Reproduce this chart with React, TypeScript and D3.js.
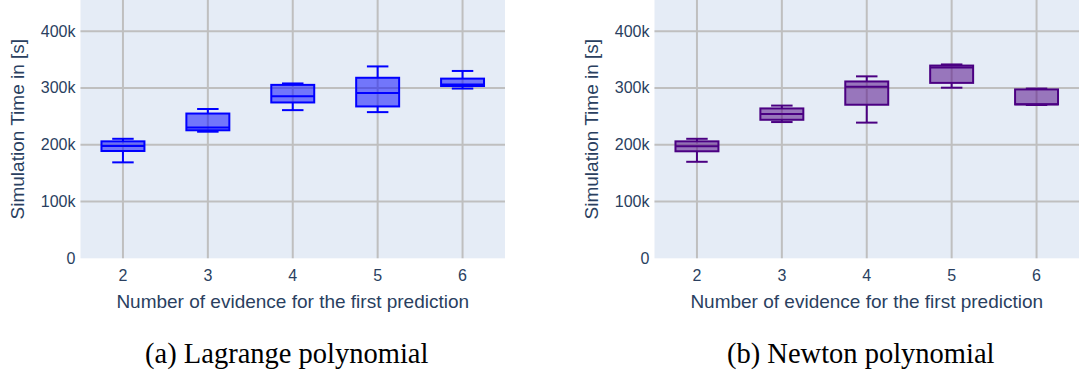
import React from 'react'
import * as d3 from 'd3'

// categories on the x axis (number of evidence)
const categories = ['2', '3', '4', '5', '6']
const yTicks = [0, 100000, 200000, 300000, 400000]

// Lagrange polynomial, simulation time in seconds
const lagrangeMin = [169000, 223000, 261000, 257500, 299000]
const lagrangeQ1 = [189000, 225500, 274500, 267500, 303500]
const lagrangeMedian = [198000, 230500, 285500, 291000, 306000]
const lagrangeQ3 = [206000, 255000, 305500, 318000, 316500]
const lagrangeMax = [210500, 263000, 308000, 338000, 330000]

// Newton polynomial, simulation time in seconds
const newtonMin = [170000, 240000, 239000, 300500, 270000]
const newtonQ1 = [188500, 244000, 270500, 309000, 271000]
const newtonMedian = [197500, 254000, 302000, 336000, 271500]
const newtonQ3 = [206000, 264000, 311500, 339500, 297500]
const newtonMax = [210500, 269000, 320500, 341500, 299000]

const textColor = '#2a3f5f'
const gridColor = '#bfbfbf'
const sans = '"Liberation Sans", Arial, sans-serif'

type Stats = { min: number[]; q1: number[]; median: number[]; q3: number[]; max: number[] }

type PanelProps = {
  dx: number
  stats: Stats
  line: string
  fill: string
  caption: string
}

const plotLeft = 80.5
const plotRight = 505
const plotTop = 0
const plotBottom = 258.3

const Panel = ({ dx, stats, line, fill, caption }: PanelProps) => {
  const x = d3.scaleBand().domain(categories).range([plotLeft, plotRight]).padding(0)
  const y = d3.scaleLinear().domain([0, 455000]).range([plotBottom, plotTop])
  const fmt = (v: number) => (v === 0 ? '0' : d3.format('~s')(v))
  const boxW = x.bandwidth() * 0.506
  const capW = boxW / 2
  const cx = (c: string) => (x(c) as number) + x.bandwidth() / 2

  return (
    <g transform={`translate(${dx},0)`}>
      <rect x={plotLeft} y={plotTop} width={plotRight - plotLeft} height={plotBottom - plotTop} fill="#e5ecf6" />
      {yTicks.filter(t => t > 0).map(t => (
        <line key={'gy' + t} x1={plotLeft} x2={plotRight} y1={y(t)} y2={y(t)} stroke={gridColor} strokeWidth={2} />
      ))}
      {categories.map(c => (
        <line key={'gx' + c} x1={cx(c)} x2={cx(c)} y1={plotTop} y2={plotBottom} stroke={gridColor} strokeWidth={2} />
      ))}
      {categories.map((c, i) => {
        const m = cx(c)
        return (
          <g key={'b' + c} stroke={line} strokeWidth={2} fill="none">
            <line x1={m} x2={m} y1={y(stats.q3[i])} y2={y(stats.max[i])} />
            <line x1={m} x2={m} y1={y(stats.q1[i])} y2={y(stats.min[i])} />
            <line x1={m - capW / 2} x2={m + capW / 2} y1={y(stats.max[i])} y2={y(stats.max[i])} />
            <line x1={m - capW / 2} x2={m + capW / 2} y1={y(stats.min[i])} y2={y(stats.min[i])} />
            <rect
              x={m - boxW / 2}
              y={y(stats.q3[i])}
              width={boxW}
              height={y(stats.q1[i]) - y(stats.q3[i])}
              fill={fill}
            />
            <line x1={m - boxW / 2} x2={m + boxW / 2} y1={y(stats.median[i])} y2={y(stats.median[i])} />
          </g>
        )
      })}
      {yTicks.map(t => (
        <text
          key={'ty' + t}
          x={plotLeft - 5}
          y={y(t)}
          textAnchor="end"
          dominantBaseline="central"
          fontFamily={sans}
          fontSize={16}
          fill={textColor}
        >
          {fmt(t)}
        </text>
      ))}
      {categories.map(c => (
        <text key={'tx' + c} x={cx(c)} y={280.5} textAnchor="middle" fontFamily={sans} fontSize={16} fill={textColor}>
          {c}
        </text>
      ))}
      <text
        x={(plotLeft + plotRight) / 2}
        y={308}
        textAnchor="middle"
        fontFamily={sans}
        fontSize={19}
        fill={textColor}
      >
        Number of evidence for the first prediction
      </text>
      <text
        transform={`translate(17.2,${(plotTop + plotBottom) / 2}) rotate(-90)`}
        textAnchor="middle"
        dominantBaseline="central"
        fontFamily={sans}
        fontSize={19}
        fill={textColor}
      >
        Simulation Time in [s]
      </text>
      <text
        x={(plotLeft + plotRight) / 2 - 6}
        y={363}
        textAnchor="middle"
        fontFamily='"Liberation Serif", "Times New Roman", serif'
        fontSize={28.5}
        fill="#000"
      >
        {caption}
      </text>
    </g>
  )
}

export default function App() {
  const lagrange: Stats = {
    min: lagrangeMin,
    q1: lagrangeQ1,
    median: lagrangeMedian,
    q3: lagrangeQ3,
    max: lagrangeMax,
  }
  const newton: Stats = {
    min: newtonMin,
    q1: newtonQ1,
    median: newtonMedian,
    q3: newtonQ3,
    max: newtonMax,
  }
  return (
    <div style={{ position: 'absolute', left: 0, top: 0 }}>
      <svg width={1082} height={374} style={{ display: 'block', background: '#fff' }}>
        <Panel dx={0} stats={lagrange} line="#0000ff" fill="rgba(0,0,255,0.5)" caption="(a) Lagrange polynomial" />
        <Panel dx={574} stats={newton} line="#4b0082" fill="rgba(75,0,130,0.5)" caption="(b) Newton polynomial" />
      </svg>
    </div>
  )
}
